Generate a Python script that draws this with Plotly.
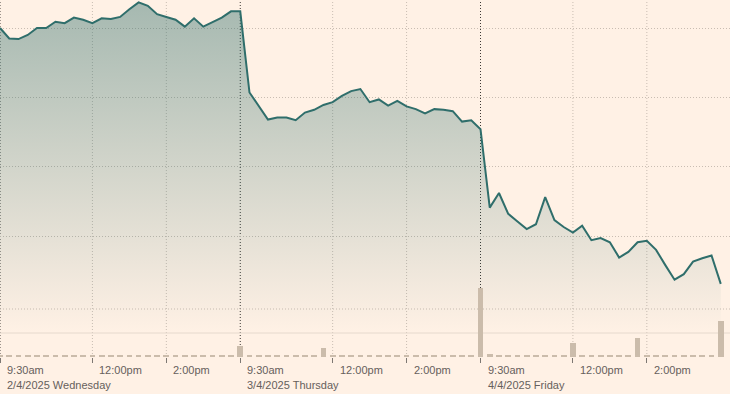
import plotly.graph_objects as go

# ---------------- data ----------------
day_labels = ["2/4/2025 Wednesday", "3/4/2025 Thursday", "4/4/2025 Friday"]
time_labels = ["9:30am", "12:00pm", "2:00pm"]
time_label_minutes = [0, 150, 270]          # minutes after 9:30 open
session_minutes = 390                         # 9:30am - 4:00pm
step_minutes = 15

# 15-minute closing prices
price_day1 = [18.00, 17.85, 17.84, 17.90, 18.00, 18.00, 18.09, 18.07, 18.15, 18.12,
              18.07, 18.14, 18.13, 18.16, 18.27, 18.37, 18.32, 18.20, 18.16, 18.12,
              18.02, 18.14, 18.02, 18.08, 18.15, 18.24, 18.24]
price_day2 = [17.07, 16.87, 16.68, 16.71, 16.71, 16.67, 16.78, 16.82, 16.89, 16.93,
              17.02, 17.09, 17.12, 16.93, 16.97, 16.88, 16.95, 16.87, 16.83, 16.77,
              16.83, 16.82, 16.80, 16.65, 16.67, 16.54]
price_day3 = [15.41, 15.62, 15.32, 15.21, 15.10, 15.17, 15.56, 15.23, 15.13, 15.05,
              15.15, 14.94, 14.97, 14.91, 14.69, 14.77, 14.91, 14.93, 14.80, 14.58,
              14.37, 14.45, 14.63, 14.68, 14.72, 14.31]

# 15-minute volumes (millions)
volume_day1 = [0.2] * 26 + [1.1]
volume_day2 = [0.25, 0.2, 0.2, 0.2, 0.2, 0.2, 0.2, 0.2, 0.9, 0.2,
               0.2, 0.2, 0.2, 0.2, 0.2, 0.2, 0.2, 0.2, 0.2, 0.2,
               0.2, 0.2, 0.2, 0.2, 0.2, 6.9]
volume_day3 = [0.3, 0.2, 0.2, 0.2, 0.2, 0.2, 0.2, 0.2, 0.2, 1.4,
               0.2, 0.2, 0.2, 0.2, 0.2, 0.2, 1.9, 0.2, 0.2, 0.2,
               0.2, 0.2, 0.2, 0.2, 0.2, 3.6]

# ---------------- build ----------------
x_day1 = [i * step_minutes for i in range(len(price_day1))]
x_day2 = [session_minutes + (i + 1) * step_minutes for i in range(len(price_day2))]
x_day3 = [2 * session_minutes + (i + 1) * step_minutes for i in range(len(price_day3))]
xs = x_day1 + x_day2 + x_day3
prices = price_day1 + price_day2 + price_day3
volumes = volume_day1 + volume_day2 + volume_day3

BG = "#fff1e5"
LINE = "#2f6e6b"
TEXT = "#66605c"
GRID = "#c9bdb2"
DOT = "1px,2px"

fig = go.Figure()

fig.add_trace(go.Bar(
    x=xs, y=volumes, yaxis="y2", width=step_minutes * 0.62,
    marker=dict(color="#cbbcab", line=dict(width=0)),
    hoverinfo="skip", showlegend=False,
))

fig.add_trace(go.Scatter(
    x=xs, y=prices, mode="lines",
    line=dict(color=LINE, width=2),
    fill="tozeroy",
    fillgradient=dict(
        type="vertical",
        colorscale=[[0, "rgba(47,110,107,0)"], [1, "rgba(47,110,107,0.43)"]],
        start=13.6, stop=18.37,
    ),
    showlegend=False,
))

shapes = []
for d in range(len(day_labels)):
    # light dotted vertical gridlines at 12:00pm / 2:00pm
    for m in time_label_minutes[1:]:
        shapes.append(dict(type="line", xref="x", yref="paper",
                           x0=d * session_minutes + m, x1=d * session_minutes + m,
                           y0=0, y1=1, layer="below",
                           line=dict(color=GRID, width=1, dash=DOT)))
    # dark dotted day separators
    shapes.append(dict(type="line", xref="x", yref="paper",
                       x0=d * session_minutes, x1=d * session_minutes,
                       y0=0, y1=1, layer="below",
                       line=dict(color="#3d3935", width=1, dash=DOT)))
# lower horizontal guides (volume panel)
shapes.append(dict(type="line", xref="paper", yref="y2", x0=0, x1=1, y0=4.8, y1=4.8,
                   layer="below", line=dict(color=GRID, width=1, dash=DOT)))
shapes.append(dict(type="line", xref="paper", yref="y2", x0=0, x1=1, y0=2.4, y1=2.4,
                   layer="below", line=dict(color="#e6d9cd", width=1)))

annotations = []
for d, lab in enumerate(day_labels):
    for t, m in zip(time_labels, time_label_minutes):
        annotations.append(dict(x=d * session_minutes + m, y=0, xref="x", yref="paper",
                                text=t, showarrow=False, xanchor="left", yanchor="middle",
                                xshift=5, yshift=-13,
                                font=dict(family="Liberation Sans, Arial", size=11, color=TEXT)))
    annotations.append(dict(x=d * session_minutes, y=0, xref="x", yref="paper",
                            text=lab, showarrow=False, xanchor="left", yanchor="middle",
                            xshift=5, yshift=-27.5,
                            font=dict(family="Liberation Sans, Arial", size=11, color=TEXT)))

tick_positions = [d * session_minutes + m for d in range(len(day_labels)) for m in time_label_minutes]

fig.update_layout(
    width=730, height=394,
    margin=dict(l=0, r=0, t=0, b=37),
    paper_bgcolor=BG, plot_bgcolor=BG,
    xaxis=dict(range=[0, 1185], showgrid=False, zeroline=False, showline=False,
               tickmode="array", tickvals=tick_positions, ticks="outside",
               ticklen=5, tickwidth=1, tickcolor="#7d7873", showticklabels=False),
    yaxis=dict(range=[13.255, 18.404], tickmode="array", tickvals=[15, 16, 17, 18],
               showticklabels=False, showgrid=True, gridcolor=GRID,
               griddash=DOT, gridwidth=1, zeroline=False, showline=False),
    yaxis2=dict(range=[0, 35.7], overlaying="y", showgrid=False, showticklabels=False,
                zeroline=False, showline=False),
    shapes=shapes, annotations=annotations,
    bargap=0,
)

fig.write_html("out.html")
